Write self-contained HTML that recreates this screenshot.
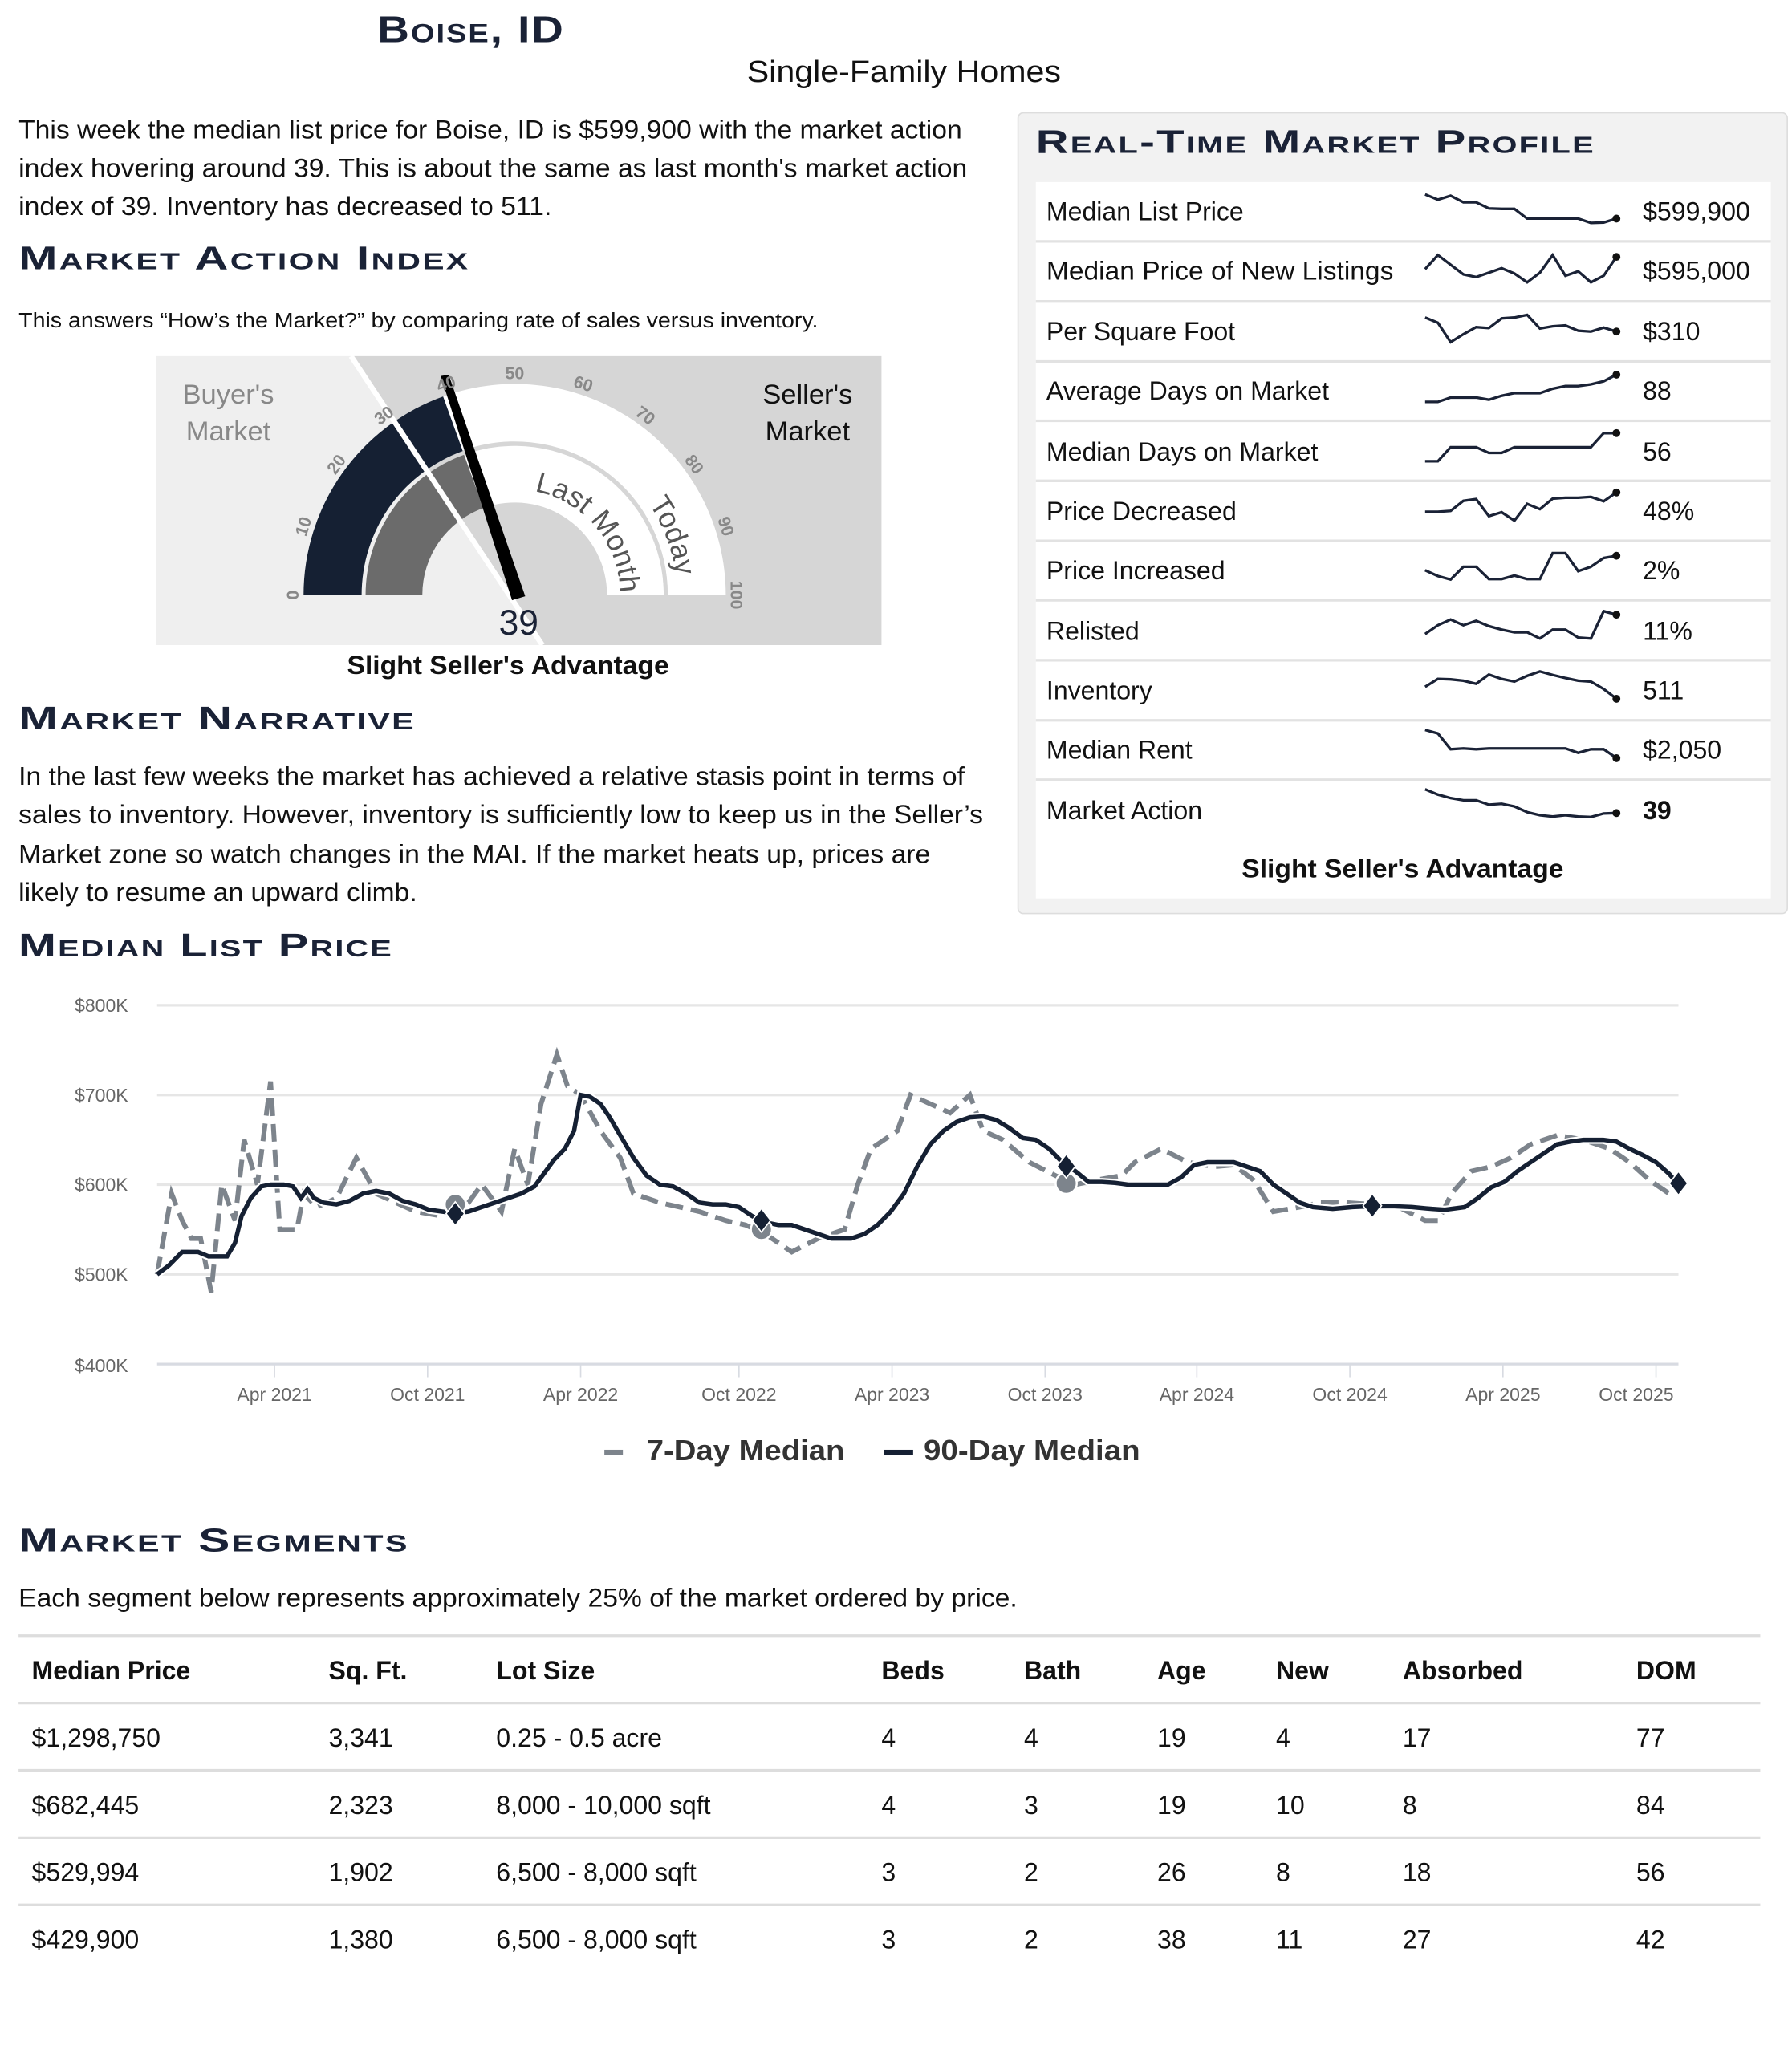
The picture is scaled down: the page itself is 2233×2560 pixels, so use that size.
<!DOCTYPE html>
<html><head><meta charset="utf-8"><style>
html,body{margin:0;padding:0;background:#fff}
svg{display:block}
text{font-family:"Liberation Sans",sans-serif}
.h{font-variant:small-caps;fill:#1a2236;font-weight:bold;letter-spacing:1px}
.p{font-size:19.5px;fill:#111}
.tk{font-size:13px;font-weight:bold;fill:#888}
.ax{font-size:14px;fill:#666}
.rl{font-size:19.5px;fill:#111}
.th{font-size:19.5px;font-weight:bold;fill:#111}
.td{font-size:19.5px;fill:#111}
.sp{fill:none;stroke:#1a2236;stroke-width:3.3}
</style></head><body>
<svg width="2233" height="2560" viewBox="0 0 1358 1557" xmlns="http://www.w3.org/2000/svg">
<rect width="1358" height="1557" fill="#fff"/>
<text x="357" y="32" text-anchor="middle" class="h" font-size="28" textLength="142" lengthAdjust="spacingAndGlyphs">Boise, ID</text>
<text x="685" y="62" text-anchor="middle" font-size="23" fill="#111" textLength="238" lengthAdjust="spacingAndGlyphs">Single-Family Homes</text>
<text x="14" y="105" class="p" textLength="715" lengthAdjust="spacingAndGlyphs">This week the median list price for Boise, ID is $599,900 with the market action</text>
<text x="14" y="134" class="p" textLength="719" lengthAdjust="spacingAndGlyphs">index hovering around 39. This is about the same as last month's market action</text>
<text x="14" y="163" class="p" textLength="404" lengthAdjust="spacingAndGlyphs">index of 39. Inventory has decreased to 511.</text>
<text x="14" y="204" class="h" font-size="25" textLength="342" lengthAdjust="spacingAndGlyphs">Market Action Index</text>
<text x="14" y="248" font-size="16" fill="#111" textLength="606" lengthAdjust="spacingAndGlyphs">This answers “How’s the Market?” by comparing rate of sales versus inventory.</text>

<!-- gauge -->
<polygon points="118,270 266,270 411,489 118,489" fill="#efefef"/>
<polygon points="266,270 668,270 668,489 411,489" fill="#d6d6d6"/>
<path d="M230,451 A160,160 0 0 1 335.8,300.5 L350.7,341.9 A116,116 0 0 0 274,451 Z" fill="#152033"/>
<path d="M335.8,300.5 A160,160 0 0 1 550,451 L506,451 A116,116 0 0 0 350.7,341.9 Z" fill="#fff"/>
<path d="M277,451 A113,113 0 0 1 351.7,344.7 L366.3,385.1 A70,70 0 0 0 320,451 Z" fill="#6b6b6b"/>
<path d="M351.7,344.7 A113,113 0 0 1 503,451 L460,451 A70,70 0 0 0 366.3,385.1 Z" fill="#fff"/>
<path d="M351,343 A114.5,114.5 0 0 1 504.5,451" fill="none" stroke="#d6d6d6" stroke-width="3"/>
<line x1="266" y1="270" x2="411" y2="489" stroke="#fff" stroke-width="4"/>
<defs>
<path id="lm" d="M405,372.4 A80,80 0 0 1 470,451"/>
<path id="td" d="M491.7,381.9 A123,123 0 0 1 513,451"/>
</defs>
<text font-size="22" fill="#555"><textPath href="#lm">Last Month</textPath></text>
<text font-size="22" fill="#555"><textPath href="#td">Today</textPath></text>
<polygon points="334,285 340,284 398,452 388,455" fill="#000"/>
<g class="tk" text-anchor="middle" dominant-baseline="central">
<text transform="translate(222,451) rotate(-90)">0</text>
<text transform="translate(230,399) rotate(-72)">10</text>
<text transform="translate(255,352) rotate(-54)">20</text>
<text transform="translate(291,315) rotate(-36)">30</text>
<text transform="translate(338,291) rotate(-18)">40</text>
<text transform="translate(390,283)">50</text>
<text transform="translate(442,291) rotate(18)">60</text>
<text transform="translate(489,315) rotate(36)">70</text>
<text transform="translate(526,352) rotate(54)">80</text>
<text transform="translate(550,399) rotate(72)">90</text>
<text transform="translate(558,451) rotate(90)">100</text>
</g>
<text x="173" y="306" text-anchor="middle" font-size="21" fill="#888">Buyer's</text>
<text x="173" y="334" text-anchor="middle" font-size="21" fill="#888">Market</text>
<text x="612" y="306" text-anchor="middle" font-size="21" fill="#111">Seller's</text>
<text x="612" y="334" text-anchor="middle" font-size="21" fill="#111">Market</text>
<text x="393" y="481" text-anchor="middle" font-size="27" fill="#1a2236">39</text>
<text x="385" y="511" text-anchor="middle" font-size="19.5" font-weight="bold" fill="#111" textLength="244" lengthAdjust="spacingAndGlyphs">Slight Seller's Advantage</text>

<text x="14" y="553" class="h" font-size="25" textLength="301" lengthAdjust="spacingAndGlyphs">Market Narrative</text>
<text x="14" y="595" class="p" textLength="717" lengthAdjust="spacingAndGlyphs">In the last few weeks the market has achieved a relative stasis point in terms of</text>
<text x="14" y="624" class="p" textLength="731" lengthAdjust="spacingAndGlyphs">sales to inventory. However, inventory is sufficiently low to keep us in the Seller’s</text>
<text x="14" y="654" class="p" textLength="691" lengthAdjust="spacingAndGlyphs">Market zone so watch changes in the MAI. If the market heats up, prices are</text>
<text x="14" y="683" class="p" textLength="302" lengthAdjust="spacingAndGlyphs">likely to resume an upward climb.</text>

<!-- right panel -->
<rect x="771.5" y="85.5" width="583" height="607" rx="4" fill="#f2f2f2" stroke="#ddd"/>
<text x="785" y="116" class="h" font-size="25" textLength="424" lengthAdjust="spacingAndGlyphs">Real-Time Market Profile</text>
<rect x="785" y="138" width="557" height="543" fill="#fff"/>
<g stroke="#e2e2e2" stroke-width="2">
<line x1="785" y1="183" x2="1342" y2="183"/><line x1="785" y1="228.5" x2="1342" y2="228.5"/>
<line x1="785" y1="274" x2="1342" y2="274"/><line x1="785" y1="319" x2="1342" y2="319"/>
<line x1="785" y1="364.5" x2="1342" y2="364.5"/><line x1="785" y1="410" x2="1342" y2="410"/>
<line x1="785" y1="455" x2="1342" y2="455"/><line x1="785" y1="500.5" x2="1342" y2="500.5"/>
<line x1="785" y1="546" x2="1342" y2="546"/><line x1="785" y1="591" x2="1342" y2="591"/>
</g>
<g class="rl">
<text x="793" y="167">Median List Price</text>
<text x="793" y="212" textLength="263" lengthAdjust="spacingAndGlyphs">Median Price of New Listings</text>
<text x="793" y="258">Per Square Foot</text>
<text x="793" y="303">Average Days on Market</text>
<text x="793" y="349">Median Days on Market</text>
<text x="793" y="394">Price Decreased</text>
<text x="793" y="439">Price Increased</text>
<text x="793" y="485">Relisted</text>
<text x="793" y="530">Inventory</text>
<text x="793" y="575">Median Rent</text>
<text x="793" y="621">Market Action</text>
<text x="1245" y="167">$599,900</text>
<text x="1245" y="212">$595,000</text>
<text x="1245" y="258">$310</text>
<text x="1245" y="303">88</text>
<text x="1245" y="349">56</text>
<text x="1245" y="394">48%</text>
<text x="1245" y="439">2%</text>
<text x="1245" y="485">11%</text>
<text x="1245" y="530">511</text>
<text x="1245" y="575">$2,050</text>
<text x="1245" y="621" font-weight="bold">39</text>
</g>
<g transform="translate(1080,134) scale(9.667,0.3333)">
<polyline vector-effect="non-scaling-stroke" class="sp" points="0,40 1,52 2,43 3,58 4,58 5,72 6,73 7,73 8,95 9,95 10,95 11,95 12,95 13,105 14,104 15,95"/>
<polyline vector-effect="non-scaling-stroke" class="sp" points="0,210 1,178 2,200 3,222 4,228 5,218 6,208 7,220 8,240 9,218 10,178 11,225 12,215 13,240 14,225 15,182"/>
<polyline vector-effect="non-scaling-stroke" class="sp" points="0,320 1,332 2,376 3,358 4,342 5,344 6,322 7,320 8,314 9,345 10,340 11,338 12,350 13,352 14,343 15,352"/>
<polyline vector-effect="non-scaling-stroke" class="sp" points="0,512 1,512 2,502 3,502 4,502 5,507 6,498 7,492 8,492 9,492 10,482 11,476 12,476 13,472 14,465 15,450"/>
<polyline vector-effect="non-scaling-stroke" class="sp" points="0,647 1,647 2,615 3,615 4,615 5,628 6,628 7,615 8,615 9,615 10,615 11,615 12,615 13,615 14,583 15,583"/>
<polyline vector-effect="non-scaling-stroke" class="sp" points="0,762 1,762 2,760 3,737 4,733 5,772 6,763 7,782 8,744 9,756 10,732 11,730 12,730 13,728 14,738 15,718"/>
<polyline vector-effect="non-scaling-stroke" class="sp" points="0,895 1,908 2,916 3,887 4,887 5,915 6,915 7,907 8,915 9,915 10,856 11,856 12,897 13,887 14,867 15,862"/>
<polyline vector-effect="non-scaling-stroke" class="sp" points="0,1040 1,1020 2,1007 3,1020 4,1010 5,1022 6,1030 7,1036 8,1036 9,1050 10,1030 11,1030 12,1048 13,1050 14,988 15,996"/>
<polyline vector-effect="non-scaling-stroke" class="sp" points="0,1160 1,1142 2,1143 3,1146 4,1153 5,1132 6,1142 7,1148 8,1135 9,1125 10,1133 11,1140 12,1146 13,1148 14,1165 15,1187"/>
<polyline vector-effect="non-scaling-stroke" class="sp" points="0,1258 1,1266 2,1302 3,1300 4,1302 5,1300 6,1300 7,1300 8,1300 9,1300 10,1300 11,1300 12,1310 13,1302 14,1302 15,1322"/>
<polyline vector-effect="non-scaling-stroke" class="sp" points="0,1393 1,1405 2,1413 3,1418 4,1418 5,1428 6,1426 7,1432 8,1445 9,1452 10,1455 11,1452 12,1455 13,1456 14,1448 15,1447"/>
</g>
<g fill="#111">
<circle cx="1225" cy="165.7" r="3"/><circle cx="1225" cy="194.7" r="3"/><circle cx="1225" cy="251.3" r="3"/>
<circle cx="1225" cy="284" r="3"/><circle cx="1225" cy="328.3" r="3"/><circle cx="1225" cy="373.3" r="3"/>
<circle cx="1225" cy="421.3" r="3"/><circle cx="1225" cy="466" r="3"/><circle cx="1225" cy="529.7" r="3"/>
<circle cx="1225" cy="574.7" r="3"/><circle cx="1225" cy="616.3" r="3"/>
</g>
<text x="1063" y="665" text-anchor="middle" font-size="19.5" font-weight="bold" fill="#111" textLength="244" lengthAdjust="spacingAndGlyphs">Slight Seller's Advantage</text>

<!-- chart -->
<text x="14" y="725" class="h" font-size="25" textLength="284" lengthAdjust="spacingAndGlyphs">Median List Price</text>
<g stroke="#e6e6e6" stroke-width="2">
<line x1="119" y1="762" x2="1272" y2="762"/><line x1="119" y1="830" x2="1272" y2="830"/>
<line x1="119" y1="898" x2="1272" y2="898"/><line x1="119" y1="966" x2="1272" y2="966"/>
</g>
<line x1="119" y1="1034" x2="1272" y2="1034" stroke="#d8dbe2" stroke-width="2"/>
<g stroke="#d8dbe2" stroke-width="1">
<line x1="208" y1="1034" x2="208" y2="1044"/><line x1="324" y1="1034" x2="324" y2="1044"/>
<line x1="440" y1="1034" x2="440" y2="1044"/><line x1="560" y1="1034" x2="560" y2="1044"/>
<line x1="676" y1="1034" x2="676" y2="1044"/><line x1="792" y1="1034" x2="792" y2="1044"/>
<line x1="907" y1="1034" x2="907" y2="1044"/><line x1="1023" y1="1034" x2="1023" y2="1044"/>
<line x1="1139" y1="1034" x2="1139" y2="1044"/><line x1="1255" y1="1034" x2="1255" y2="1044"/>
</g>
<g class="ax" text-anchor="end">
<text x="97" y="767">$800K</text><text x="97" y="835">$700K</text><text x="97" y="903">$600K</text>
<text x="97" y="971">$500K</text><text x="97" y="1040">$400K</text>
</g>
<g class="ax" text-anchor="middle" font-size="15">
<text x="208" y="1062">Apr 2021</text><text x="324" y="1062">Oct 2021</text><text x="440" y="1062">Apr 2022</text>
<text x="560" y="1062">Oct 2022</text><text x="676" y="1062">Apr 2023</text><text x="792" y="1062">Oct 2023</text>
<text x="907" y="1062">Apr 2024</text><text x="1023" y="1062">Oct 2024</text><text x="1139" y="1062">Apr 2025</text>
<text x="1240" y="1062">Oct 2025</text>
</g>
<g transform="translate(0,1306) scale(1,-0.68)">
<polyline vector-effect="non-scaling-stroke" fill="none" stroke="#7d848c" stroke-width="6" stroke-dasharray="22,10" points="119,500 130,590 138,560 145,540 152,540 160,480 168,600 178,560 185,650 195,600 205,715 212,550 225,550 230,590 240,575 255,585 270,630 285,590 300,580 315,570 335,565 345,573 355,580 365,600 380,570 390,640 400,600 410,690 422,745 430,710 440,700 455,660 470,630 480,590 500,580 530,570 550,560 565,555 580,545 600,525 620,540 640,550 650,600 660,640 670,650 680,660 690,700 705,690 720,680 735,700 745,660 760,650 780,625 800,610 815,600 830,605 850,610 860,625 880,640 900,625 920,620 935,622 950,605 965,570 985,575 1000,580 1020,580 1040,578 1060,575 1080,560 1090,560 1100,590 1115,615 1130,620 1145,630 1160,645 1180,655 1200,650 1220,640 1235,625 1250,605 1265,590 1272,600"/>
<polyline vector-effect="non-scaling-stroke" fill="none" stroke="#fff" stroke-width="10" points="119,500 128,510 138,525 150,525 158,520 172,520 178,535 183,565 190,585 198,598 205,600 215,600 222,598 228,585 233,595 238,585 245,580 255,578 265,582 275,590 285,593 295,590 305,582 315,578 325,572 335,570 345,568 355,570 365,575 375,580 385,585 395,590 405,598 412,612 420,628 428,640 435,660 440,700 447,698 455,690 462,675 470,655 480,630 490,610 500,600 510,598 520,590 530,580 540,578 550,578 560,575 570,565 580,558 590,555 600,555 610,550 620,545 630,540 645,540 655,545 665,555 675,570 685,590 695,620 705,645 715,660 725,670 735,675 745,676 755,672 765,663 775,652 785,650 795,640 805,625 815,615 825,603 835,603 845,602 855,600 885,600 895,608 905,622 915,625 935,625 945,620 955,615 965,600 975,590 985,580 995,575 1010,573 1025,575 1040,576 1055,576 1070,575 1085,573 1095,572 1110,575 1120,585 1130,597 1140,603 1150,615 1160,625 1170,635 1180,645 1190,648 1200,650 1215,650 1225,648 1235,640 1245,633 1255,625 1265,612 1272,600"/>
<polyline vector-effect="non-scaling-stroke" fill="none" stroke="#152033" stroke-width="5.5" points="119,500 128,510 138,525 150,525 158,520 172,520 178,535 183,565 190,585 198,598 205,600 215,600 222,598 228,585 233,595 238,585 245,580 255,578 265,582 275,590 285,593 295,590 305,582 315,578 325,572 335,570 345,568 355,570 365,575 375,580 385,585 395,590 405,598 412,612 420,628 428,640 435,660 440,700 447,698 455,690 462,675 470,655 480,630 490,610 500,600 510,598 520,590 530,580 540,578 550,578 560,575 570,565 580,558 590,555 600,555 610,550 620,545 630,540 645,540 655,545 665,555 675,570 685,590 695,620 705,645 715,660 725,670 735,675 745,676 755,672 765,663 775,652 785,650 795,640 805,625 815,615 825,603 835,603 845,602 855,600 885,600 895,608 905,622 915,625 935,625 945,620 955,615 965,600 975,590 985,580 995,575 1010,573 1025,575 1040,576 1055,576 1070,575 1085,573 1095,572 1110,575 1120,585 1130,597 1140,603 1150,615 1160,625 1170,635 1180,645 1190,648 1200,650 1215,650 1225,648 1235,640 1245,633 1255,625 1265,612 1272,600"/>
</g>
<g fill="#7d848c" stroke="#fff" stroke-width="1.5">
<circle cx="345" cy="913" r="8"/><circle cx="577" cy="932" r="8"/><circle cx="808" cy="897" r="8"/>
</g>
<g fill="#152033" stroke="#fff" stroke-width="1">
<polygon points="345,911 352,920 345,929 338,920"/>
<polygon points="577,916 584,925 577,934 570,925"/>
<polygon points="808,875 815,884 808,893 801,884"/>
<polygon points="1040,905 1047,914 1040,923 1033,914"/>
<polygon points="1272,888 1279,897 1272,906 1265,897"/>
</g>
<rect x="458" y="1099" width="14" height="4" fill="#7d848c"/>
<text x="490" y="1107" font-size="22" font-weight="bold" fill="#333" textLength="150" lengthAdjust="spacingAndGlyphs">7-Day Median</text>
<rect x="670" y="1099" width="22" height="4" fill="#152033"/>
<text x="700" y="1107" font-size="22" font-weight="bold" fill="#333" textLength="164" lengthAdjust="spacingAndGlyphs">90-Day Median</text>

<!-- segments -->
<text x="14" y="1176" class="h" font-size="25" textLength="296" lengthAdjust="spacingAndGlyphs">Market Segments</text>
<text x="14" y="1218" class="p" textLength="757" lengthAdjust="spacingAndGlyphs">Each segment below represents approximately 25% of the market ordered by price.</text>
<g stroke="#ddd" stroke-width="2">
<line x1="14" y1="1240" x2="1334" y2="1240"/><line x1="14" y1="1291" x2="1334" y2="1291"/>
<line x1="14" y1="1342" x2="1334" y2="1342"/><line x1="14" y1="1393" x2="1334" y2="1393"/>
<line x1="14" y1="1444" x2="1334" y2="1444"/>
</g>
<g class="th">
<text x="24" y="1273">Median Price</text><text x="249" y="1273">Sq. Ft.</text><text x="376" y="1273">Lot Size</text>
<text x="668" y="1273">Beds</text><text x="776" y="1273">Bath</text><text x="877" y="1273">Age</text>
<text x="967" y="1273">New</text><text x="1063" y="1273">Absorbed</text><text x="1240" y="1273">DOM</text>
</g>
<g class="td">
<text x="24" y="1324">$1,298,750</text><text x="249" y="1324">3,341</text><text x="376" y="1324">0.25 - 0.5 acre</text>
<text x="668" y="1324">4</text><text x="776" y="1324">4</text><text x="877" y="1324">19</text><text x="967" y="1324">4</text><text x="1063" y="1324">17</text><text x="1240" y="1324">77</text>
<text x="24" y="1375">$682,445</text><text x="249" y="1375">2,323</text><text x="376" y="1375">8,000 - 10,000 sqft</text>
<text x="668" y="1375">4</text><text x="776" y="1375">3</text><text x="877" y="1375">19</text><text x="967" y="1375">10</text><text x="1063" y="1375">8</text><text x="1240" y="1375">84</text>
<text x="24" y="1426">$529,994</text><text x="249" y="1426">1,902</text><text x="376" y="1426">6,500 - 8,000 sqft</text>
<text x="668" y="1426">3</text><text x="776" y="1426">2</text><text x="877" y="1426">26</text><text x="967" y="1426">8</text><text x="1063" y="1426">18</text><text x="1240" y="1426">56</text>
<text x="24" y="1477">$429,900</text><text x="249" y="1477">1,380</text><text x="376" y="1477">6,500 - 8,000 sqft</text>
<text x="668" y="1477">3</text><text x="776" y="1477">2</text><text x="877" y="1477">38</text><text x="967" y="1477">11</text><text x="1063" y="1477">27</text><text x="1240" y="1477">42</text>
</g>
</svg>
</body></html>
